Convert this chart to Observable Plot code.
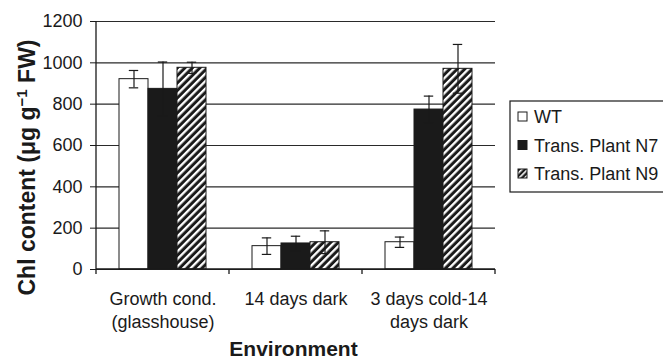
<!DOCTYPE html>
<html>
<head>
<meta charset="utf-8">
<script src="https://cdn.jsdelivr.net/npm/d3@7"></script>
<script src="https://cdn.jsdelivr.net/npm/@observablehq/plot@0.6"></script>
<style>
  html, body { margin: 0; padding: 0; background: white; }
  svg { display: block; }
</style>
</head>
<body>
<div id="chart"></div>
<script>
const categories = ["Growth cond.\n(glasshouse)", "14 days dark", "3 days cold-14\ndays dark"];
const series = ["WT", "Trans. Plant N7", "Trans. Plant N9"];
const wtMeans = [921, 113, 132];
const n7Means = [874, 126, 774];
const n9Means = [976, 132, 971];
const wtErr = [42, 40, 25];
const n7Err = [130, 35, 65];
const n9Err = [27, 55, 118];
const yTicks = [0, 200, 400, 600, 800, 1000, 1200];

const meansBySeries = [wtMeans, n7Means, n9Means];
const errBySeries = [wtErr, n7Err, n9Err];
const rows = [];
categories.forEach((cat, i) => {
  series.forEach((s, j) => {
    const v = meansBySeries[j][i], e = errBySeries[j][i];
    rows.push({cat, series: s, value: v, lo: v - e, hi: v + e});
  });
});

const font = "'Liberation Sans', Arial, Helvetica, sans-serif";
const ink = "#1a1a1a";

const plot = Plot.plot({
  width: 663,
  height: 359,
  marginLeft: 96,
  marginRight: 168,
  marginTop: 21,
  marginBottom: 90,
  style: {fontFamily: font, fontSize: "18px", color: ink, background: "white"},
  fx: {domain: categories, padding: 0, label: null},
  x: {domain: series, paddingInner: 0, paddingOuter: 0.767, axis: null},
  y: {domain: [0, 1200], label: null},
  color: {domain: series, range: ["white", ink, "url(#hatch)"]},
  marks: [
    Plot.gridY(yTicks, {stroke: "#2a2a2a", strokeOpacity: 1, strokeWidth: 1.2}),
    Plot.barY(rows, {fx: "cat", x: "series", y: "value", fill: "series", stroke: ink, strokeWidth: 1}),
    Plot.ruleX(rows, {fx: "cat", x: "series", y1: "lo", y2: "hi", stroke: ink, strokeWidth: 1.2}),
    Plot.tickY(rows, {fx: "cat", x: "series", y: "hi", stroke: ink, strokeWidth: 1.2, insetLeft: 9.8, insetRight: 9.8}),
    Plot.tickY(rows, {fx: "cat", x: "series", y: "lo", stroke: ink, strokeWidth: 1.2, insetLeft: 9.8, insetRight: 9.8}),
    Plot.axisY({ticks: yTicks, tickFormat: d => String(d), tickSize: 6, tickPadding: 8, fontSize: 18, label: null, stroke: ink}),
    Plot.axisFx({anchor: "bottom", tickSize: 0, tickPadding: 20, fontSize: 18, lineHeight: 1.25, label: null})
  ]
});

document.getElementById("chart").appendChild(plot);

const svg = d3.select(plot);
const fx = plot.scale("fx");
const y = plot.scale("y");
const color = plot.scale("color");

// hatch pattern
const defs = svg.insert("defs", ":first-child");
const pat = defs.append("pattern")
  .attr("id", "hatch")
  .attr("patternUnits", "userSpaceOnUse")
  .attr("width", 5.3)
  .attr("height", 5.3)
  .attr("patternTransform", "rotate(45)");
pat.append("rect").attr("width", 5.3).attr("height", 5.3).attr("fill", ink);
pat.append("rect").attr("x", 0).attr("width", 2.3).attr("height", 5.3).attr("fill", "white");

const pat2 = defs.append("pattern")
  .attr("id", "hatchSmall")
  .attr("patternUnits", "userSpaceOnUse")
  .attr("width", 4)
  .attr("height", 4)
  .attr("patternTransform", "rotate(45)");
pat2.append("rect").attr("width", 4).attr("height", 4).attr("fill", ink);
pat2.append("rect").attr("width", 1.6).attr("height", 4).attr("fill", "white");

// axis lines and category boundary ticks
const y0 = y.apply(0), yTop = y.apply(1200);
const left = fx.apply(categories[0]);
const g = svg.append("g").attr("stroke", ink).attr("stroke-width", 1.3);
g.append("line").attr("x1", left).attr("x2", left).attr("y1", yTop).attr("y2", y0 + 5);
g.append("line").attr("x1", left).attr("x2", fx.apply(categories[categories.length - 1]) + fx.bandwidth).attr("y1", y0).attr("y2", y0);
categories.forEach(c => {
  const xr = fx.apply(c) + fx.bandwidth;
  g.append("line").attr("x1", xr).attr("x2", xr).attr("y1", y0).attr("y2", y0 + 5);
});

// y title
const yt = svg.append("text")
  .attr("transform", `translate(35,167.5) rotate(-90)`)
  .attr("text-anchor", "middle")
  .attr("font-family", font)
  .attr("font-weight", "bold")
  .attr("font-size", 23)
  .attr("fill", ink);
yt.append("tspan").text("Chl content (μg g");
yt.append("tspan").attr("font-size", 15).attr("dy", -8).text("−1");
yt.append("tspan").attr("dy", 8).text(" FW)");

// x title
svg.append("text")
  .attr("x", (left + fx.apply(categories[2]) + fx.bandwidth) / 2 - 2)
  .attr("y", 356)
  .attr("text-anchor", "middle")
  .attr("font-family", font)
  .attr("font-weight", "bold")
  .attr("font-size", 21)
  .attr("fill", ink)
  .text("Environment");

// legend
const lg = svg.append("g").attr("transform", "translate(510,101)").attr("text-anchor", "start");
lg.append("rect").attr("width", 170).attr("height", 91).attr("fill", "white").attr("stroke", ink).attr("stroke-width", 1.2);
series.forEach((s, i) => {
  const cy = 15.5 + i * 28.5;
  const f = color.apply(s) === "url(#hatch)" ? "url(#hatchSmall)" : color.apply(s);
  lg.append("rect").attr("x", 8).attr("y", cy - 4.5).attr("width", 9).attr("height", 9)
    .attr("fill", f).attr("stroke", ink).attr("stroke-width", 1);
  lg.append("text").attr("x", 24).attr("y", cy + 6.5).attr("text-anchor", "start")
    .attr("font-family", font).attr("font-size", 18).attr("fill", ink).text(s);
});
</script>
</body>
</html>
